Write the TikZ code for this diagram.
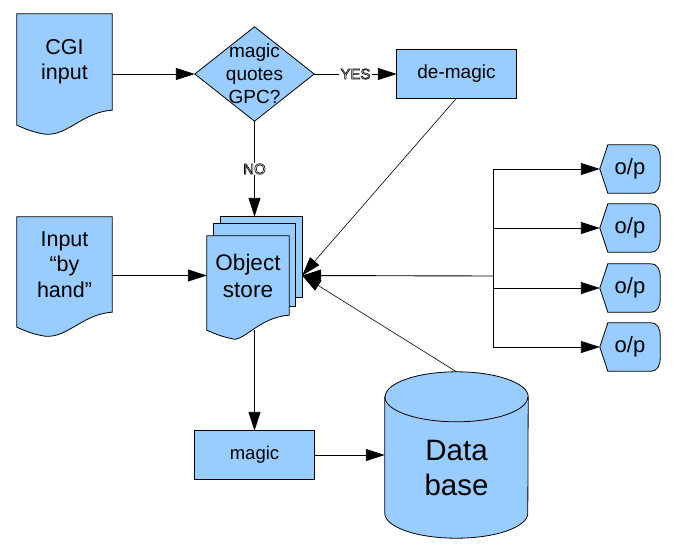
\documentclass[tikz,border=0pt]{standalone}
\usepackage{fontspec}
\setmainfont{Liberation Sans}
\usetikzlibrary{arrows.meta,calc,backgrounds}
\definecolor{boxblue}{HTML}{99CCFF}
\tikzset{
 shapefill/.style={fill=boxblue, draw=black, line width=0.8pt},
 txt/.style={inner sep=0pt, align=center, text=black},
 arr/.style={-{Triangle[length=19pt,width=12pt]}, line width=0.9pt},
 thinarr/.style={-{Triangle[length=19pt,width=12pt]}, line width=0.6pt},
 lbl/.style={fill=white, inner sep=1pt, font=\fontsize{15}{15}\selectfont},
}
\newcommand\hollowtxt[1]{\special{pdf:literal direct 1 Tr 0.6 w}#1\special{pdf:literal direct 0 Tr}}
\newcommand\docshape[1]{%
 \path[shapefill] (#1.north west) -- (#1.north east) -- (#1.south east)
 .. controls ($(#1.south east)+(-32,2)$) and ($(#1.south east)+(-47,30)$) .. ($(#1.south west)+(23,23)$)
 .. controls ($(#1.south west)+(13,21)$) and ($(#1.south west)+(5,17)$) .. ($(#1.south west)+(0,15)$) -- cycle;}
\newcommand\dispshape[1]{%
 \path[shapefill] ($(#1.north west)+(8,0)$) -- ($(#1.north east)+(-10,0)$) .. controls ($(#1.north east)+(-2,0)$) and ($(#1.north east)+(0,6)$) .. ($(#1.north east)+(0,14)$)
 -- ($(#1.south east)+(0,-14)$) .. controls ($(#1.south east)+(0,-6)$) and ($(#1.south east)+(-2,0)$) .. ($(#1.south east)+(-10,0)$)
 -- ($(#1.south west)+(8,0)$) -- (#1.west) -- cycle;}
\begin{document}
\begin{tikzpicture}[x=1pt,y=-1pt]
\useasboundingbox (0,0) rectangle (674,552);
% nodes (text)
\node[txt, minimum width=95pt, minimum height=96pt, font=\fontsize{21.5}{25}\selectfont] (cgi) at (64.5,62) {CGI\\input};
\node[txt, minimum width=119pt, minimum height=94pt, font=\fontsize{19}{23}\selectfont] (dia) at (254.5,74) {magic\\quotes\\GPC?};
\node[txt, minimum width=119pt, minimum height=48pt, font=\fontsize{19}{22}\selectfont] (dm) at (456.5,74) {de-magic};
\node[txt, minimum width=95pt, minimum height=95pt, font=\fontsize{21.5}{25.5}\selectfont] (hand) at (64.5,264.5) {Input\\“by\\hand”};
\node[txt, minimum width=81pt, minimum height=80pt] (os3) at (261.5,257) {};
\node[txt, minimum width=81pt, minimum height=82pt] (os2) at (254.5,265) {};
\node[txt, minimum width=82pt, minimum height=79pt, font=\fontsize{22.5}{27}\selectfont] (os) at (248,275.5) {Object\\store};
\node[txt, minimum width=119pt, minimum height=48pt, font=\fontsize{18.5}{22}\selectfont] (magic) at (254.5,455) {magic};
\node[txt, minimum width=143pt, minimum height=166pt] (db) at (456.5,455) {};
\node[txt, font=\fontsize{29.5}{35}\selectfont] (dbtext) at (456.5,467.5) {Data\\base};
\foreach \i/\y in {1/169,2/228,3/288,4/347}{
 \node[txt, minimum width=60pt, minimum height=48pt, font=\fontsize{22}{25}\selectfont] (op\i) at (630,\y) {o/p};
}
% shapes
\begin{pgfonlayer}{background}
 \docshape{cgi}
 \path[shapefill] (dia.west) -- (dia.north) -- (dia.east) -- (dia.south) -- cycle;
 \path[shapefill] (dm.north west) rectangle (dm.south east);
 \docshape{hand}
 \path[shapefill] (os3.north west) rectangle (os3.south east);
 \path[shapefill] (os2.north west) rectangle (os2.south east);
 \docshape{os}
 \path[shapefill] (magic.north west) rectangle (magic.south east);
 \path[shapefill] ($(db.north west)+(0,25)$) -- ($(db.south west)+(0,-25)$)
   arc[start angle=180,end angle=360,x radius=71.5pt,y radius=25pt]
   -- ($(db.north east)+(0,25)$)
   arc[start angle=0,end angle=180,x radius=71.5pt,y radius=25pt] -- cycle;
 \draw[line width=0.8pt] ($(db.north west)+(0,25)$) arc[start angle=180,end angle=360,x radius=71.5pt,y radius=25pt];
 \foreach \i in {1,2,3,4}{\dispshape{op\i}}
\end{pgfonlayer}
% connectors
\coordinate (osin) at (os3.east |- os.west);
\coordinate (br) at (493,276);
\coordinate (osbot) at (254.5,330);
\draw[arr] (dia.west -| cgi.east) -- (dia.west);
\draw[arr] (dia.east) -- (dm.west) node[lbl, pos=0.5] {\hollowtxt{YES}};
\draw[arr] (dia.south) -- (dia.south |- os3.north) node[lbl, pos=0.5] {\hollowtxt{NO}};
\draw[arr] (os.west -| hand.east) -- (os.west);
\draw[thinarr] (dm.south) -- (osin);
\draw[thinarr] (db.north) -- (osin);
\draw[arr] (br) -- (osin);
\draw[line width=0.9pt] (br |- op1.west) -- (br |- op4.west);
\foreach \i in {1,2,3,4}{\draw[arr] (br |- op\i.west) -- (op\i.west);}
\draw[arr] (osbot) -- (magic.north);
\draw[arr] (magic.east) -- (db.west |- magic.east);
\end{tikzpicture}
\end{document}
